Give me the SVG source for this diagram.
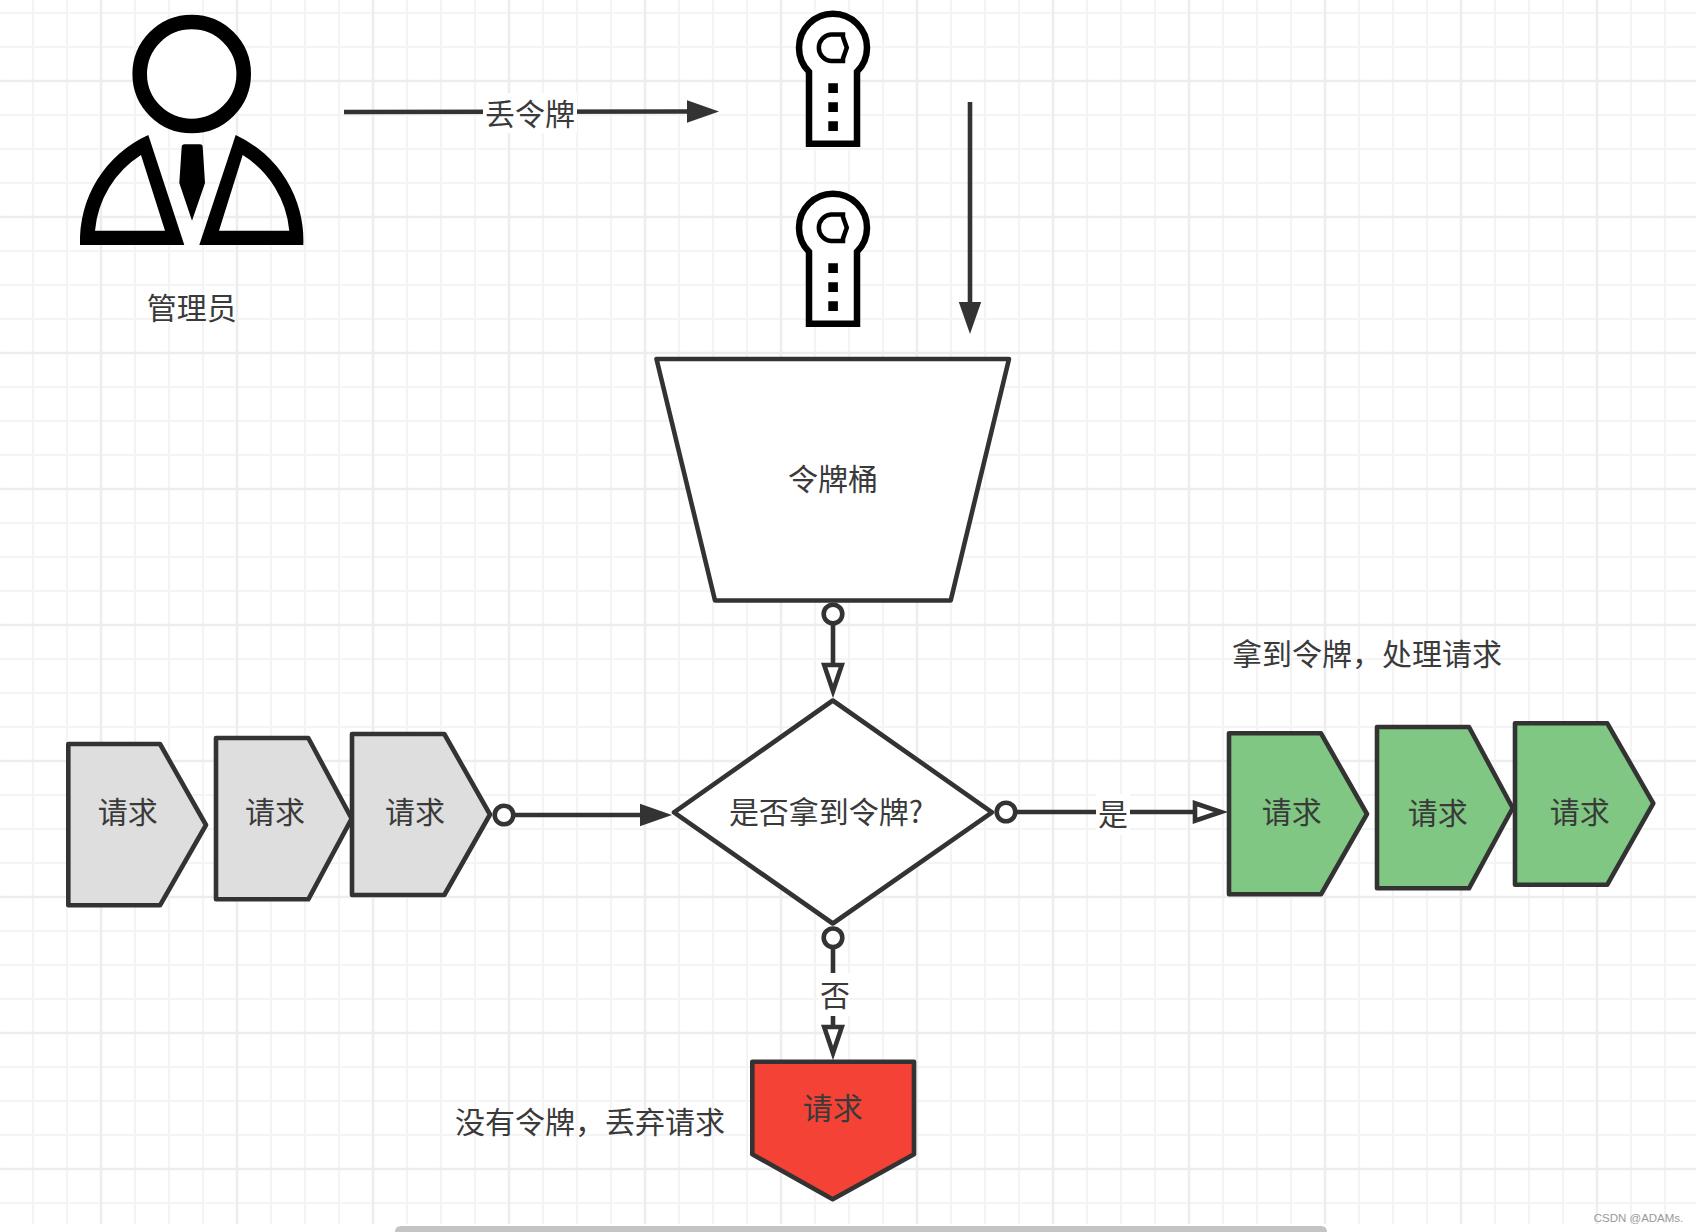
<svg xmlns="http://www.w3.org/2000/svg" xmlns:xlink="http://www.w3.org/1999/xlink" width="1696" height="1232" viewBox="0 0 1696 1232">
<style>
.t{font-family:"Noto Sans CJK SC","Noto Sans",sans-serif;font-size:30px;fill:#3a3a3a;text-anchor:middle;dominant-baseline:central}
.s{stroke:#333;stroke-width:4.6;stroke-linejoin:round}
.gray{fill:#dedede}.green{fill:#7fc782}.red{fill:#f44336}.white{fill:#fff}
.c{fill:none;stroke:#333;stroke-width:4.6}
.lb{fill:#fff}
</style>
<defs>
<pattern id="grid" patternUnits="userSpaceOnUse" x="-52" y="-72" width="136" height="136">
<path d="M51 0V136M85 0V136M119 0V136M0 51H136M0 85H136M0 119H136" stroke="#f4f4f4" stroke-width="2.2" fill="none"/>
<path d="M17 0V136M0 17H136" stroke="#ededed" stroke-width="2.6" fill="none"/>
</pattern>
<marker id="dot" markerUnits="userSpaceOnUse" markerWidth="28" markerHeight="28" viewBox="-14 -14 28 28" refX="0" refY="0" orient="auto"><circle r="9.3" fill="#fff" stroke="#333" stroke-width="4.6"/></marker>
<marker id="solid" markerUnits="userSpaceOnUse" markerWidth="36" markerHeight="26" viewBox="0 -13 36 26" refX="0" refY="0" orient="auto"><path d="M0-11.2L32 0L0 11.2Z" fill="#333"/></marker>
<marker id="hollow" markerUnits="userSpaceOnUse" markerWidth="40" markerHeight="28" viewBox="-3 -14 40 28" refX="0" refY="0" orient="auto"><path d="M0-8.8L26 0L0 8.8Z" fill="#fff" stroke="#333" stroke-width="4.6"/></marker>
<g id="key">
<path d="M809 143.7V71.8A34 34 0 1 1 857 71.8V143.7Z" fill="#fff" stroke="#000" stroke-width="6.5"/>
<path d="M831 34.5H843V37L846.8 47.7L843 58.5V61H831A13.3 13.3 0 0 1 831 34.5Z" fill="#fff" stroke="#000" stroke-width="4.5"/>
<path d="M828.3 83.3h9.6v9.6h-9.6zM828.3 102.3h9.6v9.6h-9.6zM828.3 121.3h9.6v9.6h-9.6z" fill="#000"/>
</g>
</defs>
<rect width="1696" height="1232" fill="#fff"/>
<rect width="1696" height="1224" fill="url(#grid)"/>
<path d="M395 1232Q395 1226 401 1226H1321Q1327 1226 1327 1232Z" fill="#c4c4c4"/>

<g id="admin">
<circle cx="191.7" cy="74" r="52" fill="#fff" stroke="#000" stroke-width="14.6"/>
<path fill="#000" fill-rule="evenodd" d="M148.3 135A116 116 0 0 0 80 245H184.3ZM141 155A100 100 0 0 0 95 230.7H165Z"/>
<path fill="#000" fill-rule="evenodd" d="M235.7 135A116 116 0 0 1 303.3 245H199.3ZM242.7 155A100 100 0 0 1 289.3 230.7H219Z"/>
<path fill="#000" d="M181.7 147Q181.7 144.3 184.5 144.3H200Q202.7 144.3 202.7 147L205 183L192 220.7L179.3 183Z"/>
<text class="t" x="191.7" y="305.5">管理员</text>
</g>
<g id="token1"><use xlink:href="#key" href="#key"/></g>
<g id="token2"><use xlink:href="#key" href="#key" y="180"/></g>
<g id="bucket">
<path class="s white" d="M656.5 359H1009L950.7 600.5H715Z"/>
<text class="t" x="833" y="477">令牌桶</text>
</g>
<g id="decision">
<path class="s white" d="M674 812.3L832.8 700.5L992 812.3L832.8 923.5Z"/>
<text class="t" x="826" y="810">是否拿到令牌?</text>
</g>
<g id="req1"><path class="s gray" d="M68.3 744H160L206 825L160 905.3H68.3Z"/><text class="t" x="127.7" y="809.5">请求</text></g>
<g id="req2"><path class="s gray" d="M216 738H308.3L351.7 818.7L308.3 899.3H216Z"/><text class="t" x="275" y="809.5">请求</text></g>
<g id="req3"><path class="s gray" d="M352 734H444.3L490 814.5L444.3 895H352Z"/><text class="t" x="415" y="809.5">请求</text></g>
<g id="ok1"><path class="s green" d="M1229 733.3H1321L1367 814L1321 894.3H1229Z"/><text class="t" x="1291.7" y="809.5">请求</text></g>
<g id="ok2"><path class="s green" d="M1377 727H1469L1512.7 808L1469 888.3H1377Z"/><text class="t" x="1437.7" y="810.5">请求</text></g>
<g id="ok3"><path class="s green" d="M1515 723.3H1607.3L1653.3 803.3L1607.3 884.7H1515Z"/><text class="t" x="1579.7" y="809.5">请求</text></g>
<g id="drop"><path class="s red" d="M752.3 1061.7H914V1154.3L832.7 1199.3L752.3 1154.3Z"/><text class="t" x="832.7" y="1106">请求</text></g>

<g id="connectors">
<path class="c" marker-end="url(#solid)" d="M344 112L687 111.5"/>
<rect class="lb" x="483" y="93" width="94" height="40"/>
<text class="t" x="530" y="111.5">丢令牌</text>
<path class="c" marker-end="url(#solid)" d="M970 102V302"/>
<path class="c" marker-start="url(#dot)" marker-end="url(#hollow)" d="M833 614V665"/>
<path class="c" marker-start="url(#dot)" marker-end="url(#solid)" d="M504 815H640"/>
<path class="c" marker-start="url(#dot)" marker-end="url(#hollow)" d="M1006 812H1195"/>
<rect class="lb" x="1096" y="794" width="34" height="41"/>
<text class="t" x="1113" y="812">是</text>
<path class="c" marker-start="url(#dot)" marker-end="url(#hollow)" d="M833 937.8V1027"/>
<rect class="lb" x="818" y="973" width="32" height="43"/>
<text class="t" x="835" y="993">否</text>
</g>
<text class="t" x="1367" y="651.5">拿到令牌，处理请求</text>
<text class="t" x="590" y="1120">没有令牌，丢弃请求</text>
<text x="1638.5" y="1218" text-anchor="middle" dominant-baseline="central" style="font-family:'Liberation Sans',sans-serif;font-size:11.5px;fill:#999">CSDN @ADAMs.</text>
</svg>
